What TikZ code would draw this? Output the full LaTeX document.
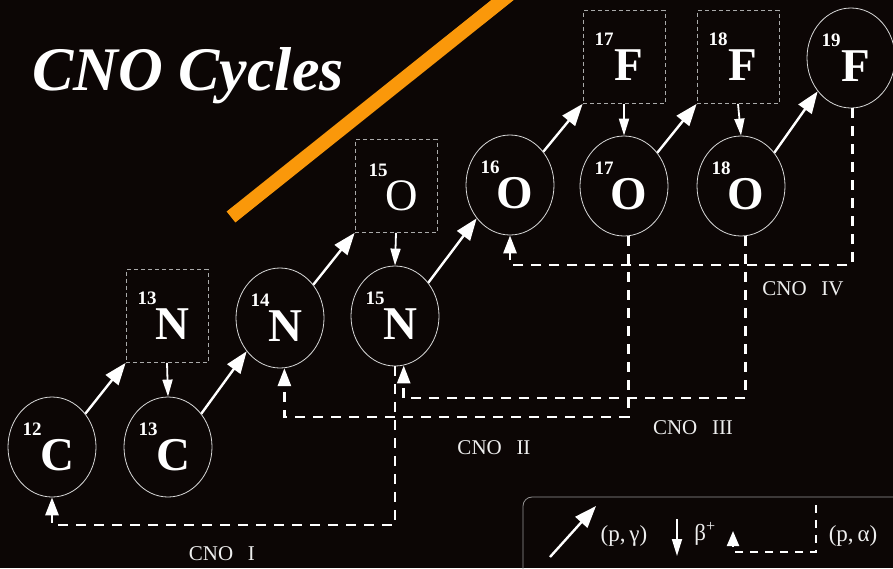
\documentclass[tikz,border=0pt]{standalone}
\usepackage{fontspec}
\setmainfont{Liberation Serif}
\usetikzlibrary{arrows.meta,calc,shapes.geometric}
\definecolor{bg}{RGB}{12,6,5}
\definecolor{orangeb}{RGB}{250,152,10}
\definecolor{ringc}{RGB}{215,215,215}
\definecolor{boxc}{RGB}{170,170,170}
\definecolor{txt}{RGB}{238,238,238}
\definecolor{legc}{RGB}{150,150,150}
\newcommand{\isotope}[5]{%
  \node[#2] (#1) at (#3) {};
  \node[numtxt] (#1-n) at ($(#1)+(-20,-18)$) {#4};
  \node[eltxt] (#1-e) at ($(#1)+(5,8)$) {#5};}
\begin{document}
\begin{tikzpicture}[x=1pt,y=-1pt,
  ring/.style={ellipse,draw=ringc,line width=0.8pt,minimum width=88pt,minimum height=100pt,inner sep=0pt},
  dbox/.style={rectangle,draw=boxc,dash pattern=on 4pt off 3pt,line width=0.7pt,minimum width=82pt,minimum height=93pt,inner sep=0pt},
  numtxt/.style={text=white,font=\fontsize{19}{19}\selectfont\bfseries,inner sep=0pt},
  eltxt/.style={text=white,font=\fontsize{47}{47}\selectfont\bfseries,inner sep=0pt},
  pg/.style={draw=white,line width=2.4pt,-{Triangle[length=22pt 0 0,width=16pt 0]}},
  bp/.style={draw=white,line width=1.8pt,-{Triangle[length=17pt 0 0,width=10pt 0]}},
  pa/.style={draw=white,line width=2.8pt,dash pattern=on 10pt off 8pt,-{Triangle[length=18pt 0 0,width=13pt 0]}},
  cno/.style={text=txt,font=\fontsize{21}{21}\selectfont,inner sep=0pt},
  legt/.style={text=txt,font=\fontsize{23}{23}\selectfont,inner sep=0pt},
]
\useasboundingbox (0,0) rectangle (893,568);
\clip (0,0) rectangle (893,568);
\fill[bg] (0,0) rectangle (893,568);

% title and orange stroke
\node[anchor=base west,text=white,font=\fontsize{62}{62}\selectfont\bfseries\itshape,inner sep=0pt] (title) at (32,90) {CNO Cycles};
\draw[orangeb,line width=14pt] (231,217) -- (510,-6);

% isotopes
\isotope{c12}{ring}{52,447}{12}{C}
\isotope{c13}{ring}{168,447}{13}{C}
\isotope{n13}{dbox}{167,316}{13}{N}
\isotope{n14}{ring}{280,318}{14}{N}
\isotope{n15}{ring}{395,316}{15}{N}
\node[dbox] (o15) at (396,186) {};
\node[numtxt] (o15-n) at ($(o15)+(-18,-16)$) {15};
\node[eltxt,font=\fontsize{45}{45}\selectfont] (o15-e) at ($(o15)+(6,10)$) {O};
\isotope{o16}{ring}{510,185}{16}{O}
\isotope{o17}{ring}{624,186}{17}{O}
\isotope{o18}{ring}{741,186}{18}{O}
\isotope{f17}{dbox}{624,57}{17}{F}
\isotope{f18}{dbox}{738,57}{18}{F}
\isotope{f19}{ring}{851,58}{19}{F}

% (p,gamma)
\draw[pg] (c12.45) -- (n13.south west);
\draw[pg] (c13.45) -- (n14.225);
\draw[pg] (n14.45) -- (o15.south west);
\draw[pg] (n15.45) -- (o16.225);
\draw[pg] (o16.45) -- (f17.south west);
\draw[pg] (o17.45) -- (f18.south west);
\draw[pg] (o18.45) -- (f19.225);

% beta+
\draw[bp] (n13.south) -- (c13.north);
\draw[bp] (o15.south) -- (n15.north);
\draw[bp] (f17.south) -- (o17.north);
\draw[bp] (f18.south) -- (o18.north);

% (p,alpha) loops
\coordinate (yI) at (0,525);
\coordinate (yII) at (0,417);
\coordinate (yIII) at (0,398);
\coordinate (yIV) at (0,265);
\draw[pa] (n15.south) -- (n15.south |- yI) -| (c12.south);
\draw[pa] (o17.275) -- (o17.275 |- yII) -| (n14.275);
\draw[pa] (o18.275) -- (o18.275 |- yIII) -| (n15.280);
\draw[pa] (f19.272) -- (f19.272 |- yIV) -| (o16.south);

\node[cno] (lI) at (222,554) {CNO\hspace{0.7em}I};
\node[cno] (lII) at (494,448) {CNO\hspace{0.7em}II};
\node[cno] (lIII) at (693,428) {CNO\hspace{0.7em}III};
\node[cno] (lIV) at (803,289) {CNO\hspace{0.7em}IV};

% legend
\node[draw=legc,line width=0.8pt,rounded corners=9pt,minimum width=387pt,minimum height=93pt,inner sep=0pt] (legend) at (716.5,543.5) {};
\coordinate (lgpA) at (550,557);
\coordinate (lgpB) at (596,506);
\draw[pg] (lgpA) -- (lgpB);
\node[legt] (lgpg) at (624,536) {(p,\,γ)};
\coordinate (lgbA) at (677,519);
\coordinate (lgbB) at (677,556);
\draw[bp] (lgbA) -- (lgbB);
\node[legt] (lgb) at (705,534) {β\textsuperscript{+}};
\coordinate (lgaA) at (816,505);
\coordinate (lgaC) at (0,552);
\coordinate (lgaB) at (733,531);
\draw[pa,line width=2.2pt,dash pattern=on 8pt off 7pt,-{Triangle[length=15pt 0 0,width=12pt 0]}] (lgaA) -- (lgaA |- lgaC) -| (lgaB);
\node[legt] (lga) at (853,536) {(p,\,α)};
\end{tikzpicture}
\end{document}
